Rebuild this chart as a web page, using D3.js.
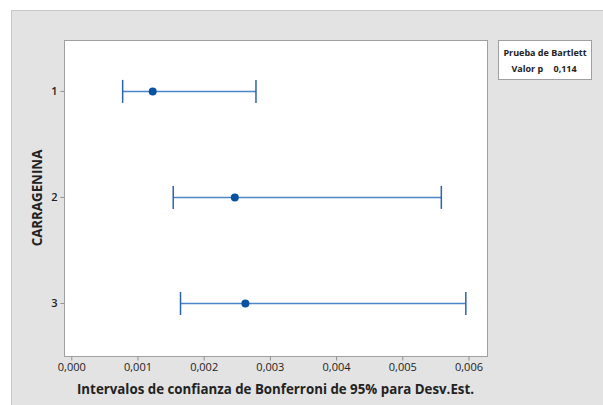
<!DOCTYPE html>
<html>
<head>
<meta charset="utf-8">
<script src="https://cdn.jsdelivr.net/npm/d3@7"></script>
<style>
  body { margin: 0; background: #fff; }
  svg { display: block; font-family: "Open Sans", "Noto Sans", sans-serif; }
</style>
</head>
<body>
<svg id="chart" width="603" height="405"></svg>
<script>
// Data
var groups = ["1", "2", "3"];
var lower = [0.000776, 0.00154, 0.00165];
var center = [0.00123, 0.00247, 0.00263];
var upper = [0.00279, 0.00559, 0.00596];
var xTicks = [0, 0.001, 0.002, 0.003, 0.004, 0.005, 0.006];
var legendLines = [["Prueba de Bartlett", ""], ["Valor p", "0,114"]];

var svg = d3.select("#chart");
var plot = { left: 64, top: 40, right: 487, bottom: 356 };

// background panel
svg.append("rect")
    .attr("x", 11.5).attr("y", 10.5)
    .attr("width", 603).attr("height", 405)
    .attr("fill", "#e3e3e3").attr("stroke", "#c8c8c8");

svg.append("rect")
    .attr("x", plot.left + 0.5).attr("y", plot.top + 0.5)
    .attr("width", plot.right - plot.left).attr("height", plot.bottom - plot.top)
    .attr("fill", "#fff").attr("stroke", "#a0a0a0");

var x = d3.scaleLinear()
    .domain([-0.00011, 0.00628])
    .range([plot.left, plot.right]);
var y = d3.scaleLinear()
    .domain([0.52, 3.5])
    .range([plot.top, plot.bottom]);

var fmt = function (d) { return d3.format(".3f")(d).replace(".", ","); };

// x axis
var xAxis = svg.append("g")
    .attr("transform", "translate(0," + (plot.bottom + 0.5) + ")")
    .call(d3.axisBottom(x).tickValues(xTicks).tickFormat(fmt).tickSize(4).tickPadding(3));
xAxis.select(".domain").remove();
xAxis.selectAll("line").attr("stroke", "#909090");
xAxis.selectAll("text").attr("font-size", "11px").attr("fill", "#222")
    .attr("font-family", "'Open Sans', sans-serif");

// y axis
var yAxis = svg.append("g")
    .attr("transform", "translate(" + (plot.left + 0.5) + ",0)")
    .call(d3.axisLeft(y).tickValues([1, 2, 3]).tickFormat(d3.format("d")).tickSize(4).tickPadding(3));
yAxis.select(".domain").remove();
yAxis.selectAll("line").attr("stroke", "#909090");
yAxis.selectAll("text").attr("font-size", "11px").attr("font-weight", "600").attr("fill", "#222")
    .attr("font-family", "'Open Sans', sans-serif");

// axis titles
svg.append("text")
    .attr("x", (plot.left + plot.right) / 2).attr("y", 394)
    .attr("text-anchor", "middle")
    .attr("font-size", "13.3px").attr("font-weight", "bold").attr("fill", "#222")
    .text("Intervalos de confianza de Bonferroni de 95% para Desv.Est.");

svg.append("text")
    .attr("transform", "translate(42," + ((plot.top + plot.bottom) / 2) + ") rotate(-90)")
    .attr("text-anchor", "middle")
    .attr("font-size", "13.3px").attr("font-weight", "bold").attr("fill", "#222")
    .text("CARRAGENINA");

// intervals
var rows = svg.append("g").selectAll("g")
    .data(groups)
    .enter()
    .append("g");

rows.append("line")
    .attr("x1", function (d, i) { return x(lower[i]); })
    .attr("x2", function (d, i) { return x(upper[i]); })
    .attr("y1", function (d) { return y(+d) + 0.5; })
    .attr("y2", function (d) { return y(+d) + 0.5; })
    .attr("stroke", "#4a86c8").attr("stroke-width", 1.5);

[lower, upper].forEach(function (arr) {
    rows.append("line")
        .attr("x1", function (d, i) { return x(arr[i]); })
        .attr("x2", function (d, i) { return x(arr[i]); })
        .attr("y1", function (d) { return y(+d) - 11; })
        .attr("y2", function (d) { return y(+d) + 12; })
        .attr("stroke", "#2a64ad").attr("stroke-width", 1.5);
});

rows.append("circle")
    .attr("cx", function (d, i) { return x(center[i]); })
    .attr("cy", function (d) { return y(+d) + 0.5; })
    .attr("r", 4)
    .attr("fill", "#0a52a0");

// legend box
var lg = svg.append("g").attr("transform", "translate(498.5,40.5)");
lg.append("rect")
    .attr("width", 93).attr("height", 39)
    .attr("fill", "#fff").attr("stroke", "#a0a0a0");
lg.append("text")
    .attr("x", 46.5).attr("y", 15)
    .attr("text-anchor", "middle")
    .attr("font-size", "9px").attr("font-weight", "bold").attr("fill", "#222")
    .text(legendLines[0][0]);
lg.append("text")
    .attr("x", 13).attr("y", 31)
    .attr("font-size", "9px").attr("font-weight", "bold").attr("fill", "#222")
    .text(legendLines[1][0]);
lg.append("text")
    .attr("x", 55).attr("y", 31)
    .attr("font-size", "9px").attr("font-weight", "bold").attr("fill", "#222")
    .text(legendLines[1][1]);
</script>
</body>
</html>
